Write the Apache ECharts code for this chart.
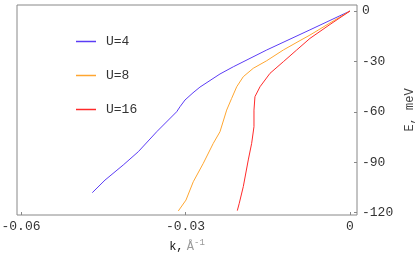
<!DOCTYPE html>
<html>
<head>
<meta charset="utf-8">
<script src="https://cdn.jsdelivr.net/npm/echarts@6/dist/echarts.min.js"></script>
<style>html,body{margin:0;padding:0;background:#fff}#c{width:415px;height:257px}</style>
</head>
<body>
<div id="c"></div>
<script>
const seriesNames = ['U=4', 'U=8', 'U=16'];
const k_U4 = [0, -0.00730, -0.01519, -0.02128, -0.02371, -0.02736, -0.02863, -0.03009, -0.03100, -0.03161, -0.03525, -0.03861, -0.04135, -0.04468, -0.04700];
const E_U4 = [0, -11.2, -23.2, -33.2, -37.5, -45.3, -48.7, -53.0, -57.0, -60.0, -71.9, -83.8, -91.7, -100.7, -108.2];
const k_U8 = [0, -0.00365, -0.00730, -0.00912, -0.01216, -0.01519, -0.01764, -0.01946, -0.02066, -0.02158, -0.02249, -0.02371, -0.02493, -0.02675, -0.02858, -0.02991, -0.03131];
const E_U8 = [0, -7.1, -14.3, -17.6, -23.2, -29.6, -34.1, -39.1, -45.1, -52.0, -59.0, -71.9, -78.8, -90.7, -101.7, -112.6, -119.1];
const k_U16 = [0, -0.00365, -0.00730, -0.00972, -0.01216, -0.01459, -0.01641, -0.01733, -0.01751, -0.01751, -0.01793, -0.01855, -0.01946, -0.02019, -0.02055];
const E_U16 = [0, -8.0, -16.3, -23.2, -30.2, -37.1, -45.1, -51.0, -59.0, -68.9, -78.8, -88.7, -104.6, -114.5, -118.9];
const xTicks = [-0.06, -0.03, 0];
const yTicks = [0, -30, -60, -90, -120];
const colors = ['#5b3cf5', '#ffa630', '#ff2a2a'];

const zip = (a, b) => a.map((v, i) => [v, b[i]]);
const font = 'Liberation Mono';
const chart = echarts.init(document.getElementById('c'), null, {renderer: 'canvas'});
chart.setOption({
  animation: false,
  grid: {left: 17, right: 58, top: 5, bottom: 42, show: true, borderColor: '#888', borderWidth: 1,
    containLabel: false, outerBoundsMode: 'none'},
  legend: {
    orient: 'vertical', left: 71, top: 30, itemWidth: 20, itemHeight: 1.5, itemGap: 21,
    icon: 'rect', data: seriesNames,
    textStyle: {fontFamily: font, fontSize: 13, color: '#333', padding: [0, 0, 0, 5]}
  },
  xAxis: {
    type: 'value', min: -0.06073, max: 0.00128,
    name: '{k|k,} {a|Å}{s|-1}', nameLocation: 'middle', nameGap: 22,
    nameTextStyle: {rich: {
      k: {fontFamily: font, fontSize: 12, color: '#111'},
      a: {fontFamily: font, fontSize: 12, color: '#999'},
      s: {fontFamily: font, fontSize: 9, color: '#999', verticalAlign: 'bottom', padding: [0, 0, 8, 0]}
    }},
    splitLine: {show: false},
    axisLine: {show: false, onZero: false},
    axisTick: {show: true, inside: true, length: 3, customValues: xTicks, lineStyle: {color: '#888'}},
    axisLabel: {customValues: xTicks, margin: 5, fontFamily: font, fontSize: 13, color: '#333',
      formatter: v => Math.abs(v) < 1e-9 ? '0' : v.toFixed(2)}
  },
  yAxis: {
    type: 'value', position: 'right', min: -121.5, max: 3.6,
    name: 'E, meV', nameLocation: 'middle', nameRotate: 90, nameGap: 42,
    nameTextStyle: {fontFamily: font, fontSize: 12, color: '#444'},
    splitLine: {show: false},
    axisLine: {show: false, onZero: false},
    axisTick: {show: true, inside: true, length: 3, customValues: yTicks, lineStyle: {color: '#888'}},
    axisLabel: {customValues: yTicks, margin: 5, fontFamily: font, fontSize: 13, color: '#333',
      formatter: v => String(Math.round(v))}
  },
  series: [
    {name: seriesNames[0], type: 'line', data: zip(k_U4, E_U4)},
    {name: seriesNames[1], type: 'line', data: zip(k_U8, E_U8)},
    {name: seriesNames[2], type: 'line', data: zip(k_U16, E_U16)}
  ].map((s, i) => Object.assign(s, {showSymbol: false, symbol: 'none', color: colors[i], lineStyle: {width: 1, color: colors[i]}}))
});
</script>
</body>
</html>
